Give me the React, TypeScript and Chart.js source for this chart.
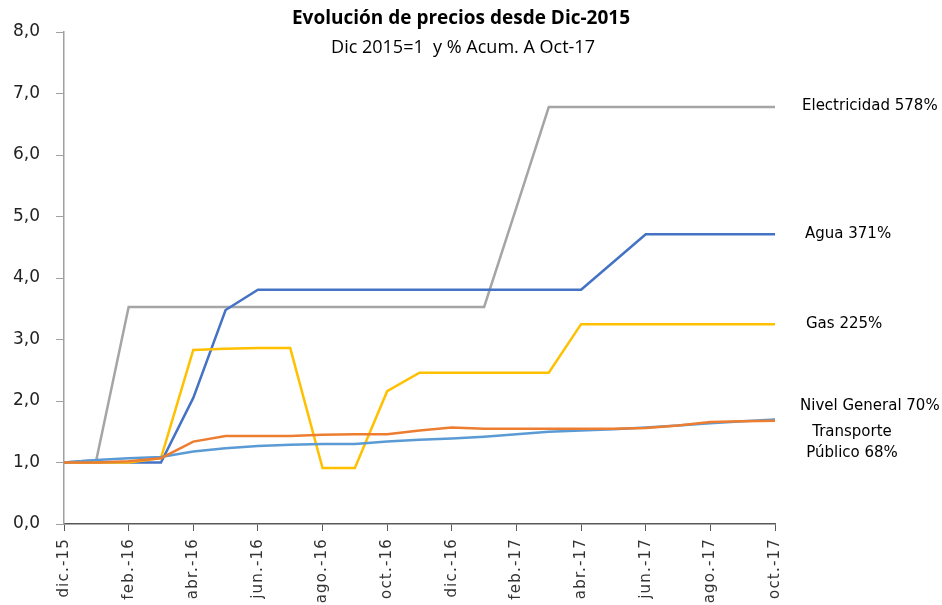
import React, { useEffect, useRef } from "react";
import { Chart, registerables } from "chart.js";

Chart.register(...registerables);

const months = [
  "dic.-15", "ene.-16", "feb.-16", "mar.-16", "abr.-16", "may.-16", "jun.-16", "jul.-16",
  "ago.-16", "sep.-16", "oct.-16", "nov.-16", "dic.-16", "ene.-17", "feb.-17", "mar.-17",
  "abr.-17", "may.-17", "jun.-17", "jul.-17", "ago.-17", "sep.-17", "oct.-17",
];

const electricidad = [1.0, 1.04, 3.53, 3.53, 3.53, 3.53, 3.53, 3.53, 3.53, 3.53, 3.53, 3.53, 3.53, 3.53, 5.15, 6.78, 6.78, 6.78, 6.78, 6.78, 6.78, 6.78, 6.78];
const agua = [1.0, 1.0, 1.0, 1.0, 2.05, 3.48, 3.81, 3.81, 3.81, 3.81, 3.81, 3.81, 3.81, 3.81, 3.81, 3.81, 3.81, 4.26, 4.71, 4.71, 4.71, 4.71, 4.71];
const gas = [1.0, 1.0, 1.0, 1.07, 2.83, 2.85, 2.86, 2.86, 0.91, 0.91, 2.16, 2.46, 2.46, 2.46, 2.46, 2.46, 3.25, 3.25, 3.25, 3.25, 3.25, 3.25, 3.25];
const transporte = [1.0, 1.0, 1.02, 1.07, 1.34, 1.43, 1.43, 1.43, 1.45, 1.46, 1.46, 1.52, 1.57, 1.55, 1.55, 1.55, 1.55, 1.55, 1.56, 1.6, 1.66, 1.67, 1.68];
const nivelGeneral = [1.0, 1.04, 1.07, 1.09, 1.18, 1.23, 1.27, 1.29, 1.3, 1.3, 1.34, 1.37, 1.39, 1.42, 1.46, 1.5, 1.52, 1.54, 1.57, 1.6, 1.64, 1.67, 1.7];

const endLabels = [
  { text: ["Electricidad 578%"], at: 6.8, align: "left" as CanvasTextAlign, dx: 27 },
  { text: ["Agua 371%"], at: 4.71, align: "left" as CanvasTextAlign, dx: 30 },
  { text: ["Gas 225%"], at: 3.25, align: "left" as CanvasTextAlign, dx: 31 },
  { text: ["Nivel General 70%"], at: 1.92, align: "left" as CanvasTextAlign, dx: 25 },
  { text: ["Transporte", "Público 68%"], at: 1.5, align: "center" as CanvasTextAlign, dx: 77 },
];

export default function App() {
  const ref = useRef<HTMLCanvasElement>(null);
  useEffect(() => {
    document.body.style.margin = "0";
    const spacingPlugin = {
      id: "spacingPlugin",
      afterUpdate(chart: any) {
        const xs = chart.scales.x;
        if (xs && !xs._spaced) {
          const orig = xs.drawLabels;
          xs.drawLabels = function (area: any) {
            const ctx = chart.ctx;
            ctx.save();
            (ctx as any).letterSpacing = "1.2px";
            orig.call(this, area);
            ctx.restore();
          };
          xs._spaced = true;
        }
      },
    };
    const labelsPlugin = {
      id: "labelsPlugin",
      afterDraw(chart: any) {
        const ctx = chart.ctx;
        const ys = chart.scales.y;
        const area = chart.chartArea;
        ctx.save();
        ctx.fillStyle = "#000";
        ctx.textAlign = "center";
        ctx.textBaseline = "middle";
        ctx.font = "bold 19px 'Open Sans'";
        ctx.fillText("Evolución de precios desde Dic-2015", 461, 19);
        ctx.font = "18px 'Open Sans'";
        ctx.fillText("Dic 2015=1  y % Acum. A Oct-17", 463, 48);
        ctx.font = "15px 'DejaVu Sans'";
        ctx.fillStyle = "#000";
        for (const l of endLabels) {
          ctx.textAlign = l.align;
          const y0 = ys.getPixelForValue(l.at);
          l.text.forEach((t, i) => ctx.fillText(t, area.right + l.dx, y0 + i * 21));
        }
        ctx.restore();
      },
    };
    const ds = (label: string, data: number[], color: string, order: number) => ({
      label,
      data,
      borderColor: color,
      backgroundColor: color,
      borderWidth: 2.5,
      pointRadius: 0,
      tension: 0,
      order,
    });
    const chart = new Chart(ref.current!, {
      type: "line",
      data: {
        labels: months,
        datasets: [
          ds("Electricidad", electricidad, "#A5A5A5", 5),
          ds("Agua", agua, "#4472C4", 4),
          ds("Gas", gas, "#FFC000", 3),
          ds("Nivel General", nivelGeneral, "#5B9BD5", 2),
          ds("Transporte Público", transporte, "#ED7D31", 1),
        ],
      },
      options: {
        animation: false,
        responsive: false,
        maintainAspectRatio: false,
        layout: { padding: { top: 32, right: 167, left: 0, bottom: 0 } },
        plugins: { legend: { display: false }, tooltip: { enabled: false } },
        scales: {
          x: {
            offset: false,
            afterFit: (s: any) => { s.height = 81; },
            border: { color: "#595959", width: 1.5 },
            grid: {
              drawOnChartArea: false,
              drawTicks: true,
              tickLength: 7,
              tickColor: (c: any) => (c.index % 2 === 0 ? "#595959" : "rgba(0,0,0,0)"),
            },
            ticks: {
              autoSkip: false,
              minRotation: 90,
              maxRotation: 90,
              color: "#333333",
              font: { family: "DejaVu Sans", size: 15 },
              padding: 7,
              callback: (_v: any, i: number) => (i % 2 === 0 ? months[i] : ""),
            },
          },
          y: {
            min: 0,
            max: 8,
            afterFit: (s: any) => { s.width = 64; },
            border: { color: "#A0A0A0", width: 1.5 },
            grid: { drawOnChartArea: false, drawTicks: true, tickLength: 8, color: "#A0A0A0" },
            ticks: {
              stepSize: 1,
              color: "#222222",
              font: { family: "DejaVu Sans", size: 17 },
              padding: 16,
              callback: (v: any) => Number(v).toFixed(1).replace(".", ","),
            },
          },
        },
      },
      plugins: [spacingPlugin, labelsPlugin],
    });
    return () => chart.destroy();
  }, []);
  return (
    <div style={{ width: 942, height: 605, position: "relative" }}>
      <canvas ref={ref} width={942} height={605} />
    </div>
  );
}
